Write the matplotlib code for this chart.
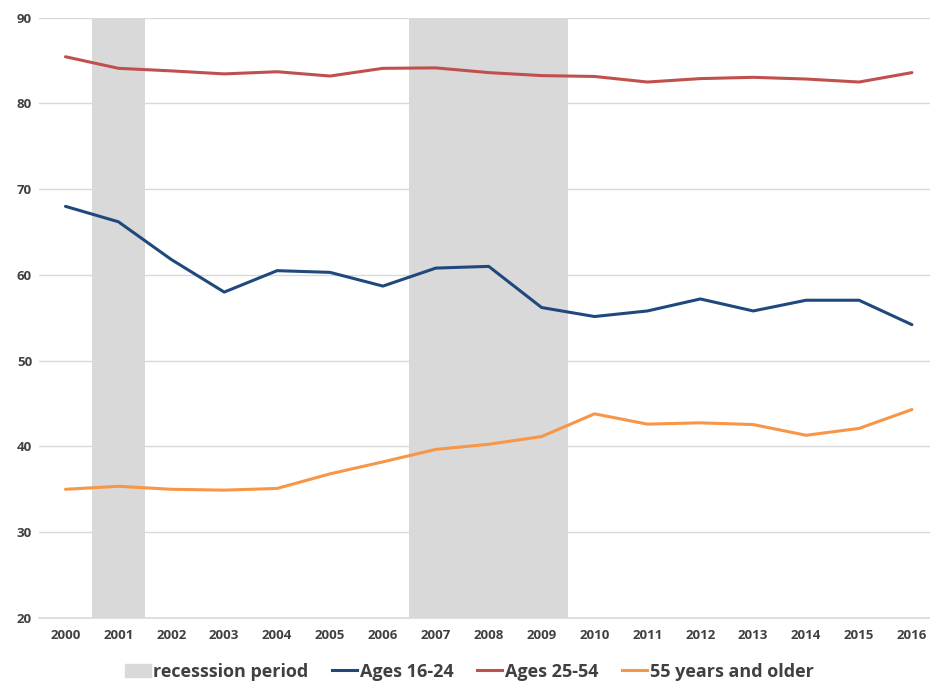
import matplotlib
matplotlib.use("Agg")
import matplotlib.pyplot as plt
import matplotlib.patches as mpatches
from matplotlib.lines import Line2D

plt.rcParams["font.family"] = ["Open Sans", "DejaVu Sans"]

years = [str(y) for y in range(2000, 2017)]
ages_16_24 = [68.0, 66.2, 61.8, 58.0, 60.5, 60.3, 58.7, 60.8, 61.0, 56.2,
              55.15, 55.8, 57.2, 55.8, 57.05, 57.05, 54.2]
ages_25_54 = [85.45, 84.1, 83.8, 83.45, 83.7, 83.2, 84.1, 84.15, 83.6, 83.25,
              83.15, 82.5, 82.9, 83.05, 82.85, 82.5, 83.6]
ages_55_up = [35.0, 35.35, 35.0, 34.9, 35.1, 36.8, 38.2, 39.65, 40.25, 41.15,
              43.8, 42.6, 42.75, 42.55, 41.3, 42.1, 44.3]
# recession periods as (first year, last year)
recessions = [("2001", "2001"), ("2007", "2009")]

BLUE = "#1f497d"
RED = "#c0504d"
ORANGE = "#f79646"
SHADE = "#d9d9d9"
TXT = "#404040"

fig = plt.figure(figsize=(9.3, 6.82), dpi=100)
ax = fig.add_axes([0.042, 0.094, 0.967, 0.880])

x = list(range(len(years)))
for start, end in recessions:
    ax.axvspan(years.index(start) - 0.5, years.index(end) + 0.5,
               color=SHADE, lw=0, zorder=1)

ax.plot(x, ages_16_24, color=BLUE, lw=2.2, zorder=3, solid_capstyle="round")
ax.plot(x, ages_25_54, color=RED, lw=2.2, zorder=3, solid_capstyle="round")
ax.plot(x, ages_55_up, color=ORANGE, lw=2.2, zorder=3, solid_capstyle="round")

ax.set_ylim(20, 90)
ax.set_xlim(-0.5, 16.5)
ax.set_yticks(range(20, 91, 10))
ax.set_xticks(x)
ax.set_xticklabels(years)
ax.grid(axis="y", color="#d9d9d9", lw=1.0, zorder=0)
ax.set_axisbelow(True)
for s in ["top", "right", "left"]:
    ax.spines[s].set_visible(False)
ax.spines["bottom"].set_color("#d9d9d9")
ax.spines["bottom"].set_linewidth(1.2)
ax.tick_params(length=0, labelsize=9.5, labelcolor=TXT, pad=8)
ax.tick_params(axis="y", pad=5)
for lab in ax.get_xticklabels() + ax.get_yticklabels():
    lab.set_fontweight("bold")

handles = [
    mpatches.Patch(color=SHADE, label="recesssion period"),
    Line2D([], [], color=BLUE, lw=2.2, label="Ages 16-24"),
    Line2D([], [], color=RED, lw=2.2, label="Ages 25-54"),
    Line2D([], [], color=ORANGE, lw=2.2, label="55 years and older"),
]
leg = fig.legend(handles=handles, loc="center", bbox_to_anchor=(0.505, 0.015),
                 ncol=4, frameon=False, handlelength=1.4,
                 handletextpad=0.15, columnspacing=1.3,
                 prop={"weight": "bold", "size": 13})
for t in leg.get_texts():
    t.set_color(TXT)

fig.savefig("out.png", dpi=100)
